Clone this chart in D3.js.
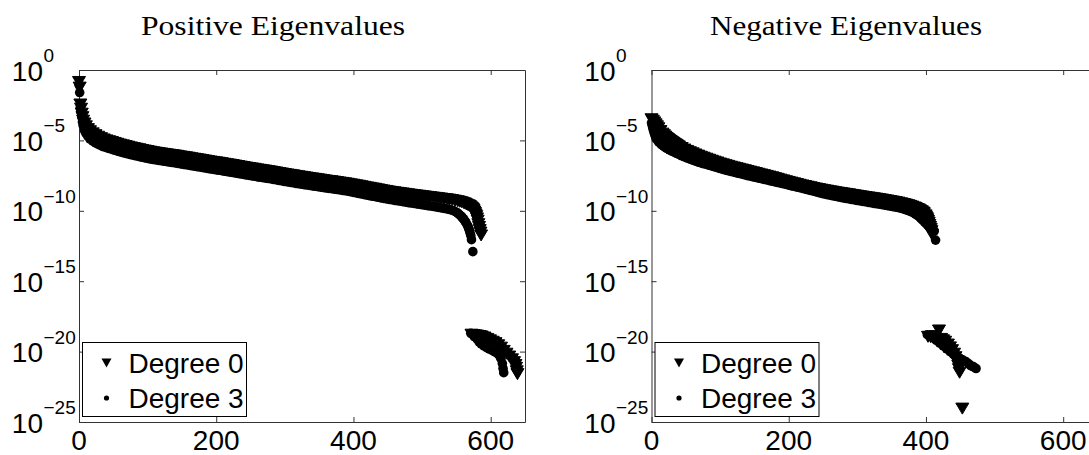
<!DOCTYPE html>
<html>
<head>
<meta charset="utf-8">
<script src="https://cdn.jsdelivr.net/npm/d3@7"></script>
<style>
  body { margin: 0; background: #fff; }
</style>
</head>
<body>
<div id="chart"></div>
<script>
// [eigenvalue index, log10 of eigenvalue]
var posDeg0 = [[0,-0.85],[1,-1.25],[2,-2.45],[3,-2.75],[4,-3.1],[5,-3.35],[6,-3.6],[8,-3.8],[10,-4.0],[13,-4.2],
  [16,-4.35],[20,-4.5],[24,-4.63],[28,-4.74],[32,-4.84],[36,-4.93],[40,-5.0],[44,-5.06],[48,-5.12],[52,-5.18],
  [56,-5.24],[60,-5.3],[64,-5.35],[68,-5.4],[72,-5.45],[76,-5.5],[80,-5.55],[84,-5.59],[88,-5.63],[92,-5.68],
  [96,-5.72],[100,-5.76],[104,-5.8],[108,-5.84],[112,-5.87],[116,-5.9],[120,-5.93],[124,-5.96],[128,-5.99],[132,-6.02],
  [136,-6.04],[140,-6.07],[144,-6.1],[148,-6.14],[152,-6.17],[156,-6.2],[160,-6.23],[164,-6.27],[168,-6.3],[172,-6.33],
  [176,-6.36],[180,-6.4],[184,-6.43],[188,-6.47],[192,-6.5],[196,-6.53],[200,-6.56],[204,-6.59],[208,-6.62],[212,-6.66],
  [216,-6.69],[220,-6.72],[224,-6.75],[228,-6.79],[232,-6.82],[236,-6.86],[240,-6.89],[244,-6.93],[248,-6.96],[252,-6.99],
  [256,-7.02],[260,-7.06],[264,-7.09],[268,-7.12],[272,-7.15],[276,-7.18],[280,-7.21],[284,-7.25],[288,-7.28],[292,-7.32],
  [296,-7.35],[300,-7.39],[304,-7.42],[308,-7.45],[312,-7.48],[316,-7.52],[320,-7.55],[324,-7.58],[328,-7.61],[332,-7.64],
  [336,-7.67],[340,-7.7],[344,-7.73],[348,-7.76],[352,-7.79],[356,-7.82],[360,-7.85],[364,-7.88],[368,-7.9],[372,-7.93],
  [376,-7.96],[380,-7.99],[384,-8.02],[388,-8.05],[392,-8.08],[396,-8.12],[400,-8.15],[404,-8.19],[408,-8.22],[412,-8.26],
  [416,-8.3],[420,-8.34],[424,-8.37],[428,-8.41],[432,-8.44],[436,-8.48],[440,-8.52],[444,-8.56],[448,-8.59],[452,-8.63],
  [456,-8.66],[460,-8.69],[464,-8.72],[468,-8.75],[472,-8.77],[476,-8.8],[480,-8.83],[484,-8.86],[488,-8.88],[492,-8.91],
  [496,-8.93],[500,-8.96],[504,-8.98],[508,-9.01],[512,-9.03],[516,-9.06],[520,-9.08],[524,-9.11],[528,-9.13],[532,-9.16],
  [536,-9.18],[540,-9.21],[544,-9.24],[548,-9.28],[552,-9.32],[555,-9.36],[558,-9.4],[561,-9.46],[563,-9.5],[565,-9.55],
  [567,-9.6],[569,-9.64],[570,-9.68],[572,-9.76],[573,-9.82],[574,-9.88],[575,-9.95],[576,-10.05],[577,-10.15],[578,-10.26],
  [579,-10.38],[580,-10.54],[581,-10.7],[582,-10.95],[583,-11.15],[584,-11.37],[585,-11.55],[586,-11.75],
  [572,-18.8],[575,-18.82],[578,-18.85],[581,-18.87],[584,-18.9],[587,-18.93],[591,-19.0],[595,-19.1],[599,-19.2],[603,-19.3],
  [607,-19.4],[611,-19.55],[615,-19.72],[619,-19.95],[623,-20.15],[627,-20.35],[631,-20.55],[634,-20.75],[636,-20.95],[637,-21.15],
  [638,-21.4],[639,-21.6]];

var posDeg3 = [[0,-1.05],[1,-1.6],[2,-2.65],[3,-3.0],[4,-3.35],[5,-3.7],[6,-3.95],[8,-4.3],[10,-4.5],[13,-4.72],
  [16,-4.9],[20,-5.05],[24,-5.18],[28,-5.28],[32,-5.37],[36,-5.45],[40,-5.52],[44,-5.58],[48,-5.64],[52,-5.7],
  [56,-5.76],[60,-5.82],[64,-5.87],[68,-5.92],[72,-5.97],[76,-6.02],[80,-6.07],[84,-6.11],[88,-6.15],[92,-6.2],
  [96,-6.24],[100,-6.28],[104,-6.32],[108,-6.36],[112,-6.39],[116,-6.42],[120,-6.45],[124,-6.48],[128,-6.51],[132,-6.54],
  [136,-6.57],[140,-6.6],[144,-6.63],[148,-6.67],[152,-6.7],[156,-6.73],[160,-6.76],[164,-6.8],[168,-6.83],[172,-6.86],
  [176,-6.89],[180,-6.93],[184,-6.96],[188,-7.0],[192,-7.03],[196,-7.06],[200,-7.09],[204,-7.12],[208,-7.15],[212,-7.19],
  [216,-7.22],[220,-7.25],[224,-7.28],[228,-7.32],[232,-7.35],[236,-7.39],[240,-7.42],[244,-7.46],[248,-7.49],[252,-7.52],
  [256,-7.55],[260,-7.59],[264,-7.62],[268,-7.65],[272,-7.68],[276,-7.71],[280,-7.74],[284,-7.78],[288,-7.81],[292,-7.85],
  [296,-7.88],[300,-7.92],[304,-7.95],[308,-7.98],[312,-8.01],[316,-8.05],[320,-8.08],[324,-8.11],[328,-8.14],[332,-8.17],
  [336,-8.2],[340,-8.23],[344,-8.26],[348,-8.29],[352,-8.32],[356,-8.35],[360,-8.38],[364,-8.41],[368,-8.43],[372,-8.46],
  [376,-8.49],[380,-8.52],[384,-8.55],[388,-8.58],[392,-8.61],[396,-8.65],[400,-8.69],[404,-8.73],[408,-8.77],[412,-8.81],
  [416,-8.85],[420,-8.89],[424,-8.93],[428,-8.97],[432,-9.0],[436,-9.04],[440,-9.08],[444,-9.12],[448,-9.15],[452,-9.19],
  [456,-9.22],[460,-9.26],[464,-9.29],[468,-9.32],[472,-9.35],[476,-9.39],[480,-9.42],[484,-9.45],[488,-9.48],[492,-9.51],
  [496,-9.54],[500,-9.57],[504,-9.6],[508,-9.63],[512,-9.66],[516,-9.69],[520,-9.72],[524,-9.76],[528,-9.79],[532,-9.83],
  [536,-9.86],[540,-9.91],[544,-9.96],[547,-10.02],[550,-10.1],[552,-10.17],[554,-10.25],[556,-10.34],[558,-10.44],[560,-10.56],
  [561,-10.62],[563,-10.76],[564,-10.84],[566,-11.02],[567,-11.12],[568,-11.26],[569,-11.4],[570,-11.58],[571,-11.76],[572,-12.05],
  [574,-12.9],
  [571,-18.7],[574,-18.8],[577,-18.95],[580,-19.1],[583,-19.3],[586,-19.45],[590,-19.6],[594,-19.72],[598,-19.82],[602,-19.92],
  [606,-20.02],[610,-20.15],[613,-20.3],[615,-20.5],[617,-20.85],[618,-21.2],[619,-21.5]];

var negDeg0 = [[0,-3.5],[2,-3.6],[4,-3.72],[6,-3.86],[8,-4.0],[10,-4.14],[13,-4.34],[16,-4.52],[18,-4.63],[20,-4.73],
  [22,-4.82],[24,-4.9],[26,-4.98],[28,-5.05],[30,-5.12],[32,-5.18],[34,-5.25],[36,-5.31],[38,-5.37],[40,-5.43],
  [44,-5.54],[48,-5.65],[52,-5.75],[56,-5.84],[60,-5.92],[64,-6.0],[68,-6.08],[72,-6.16],[76,-6.23],[80,-6.3],
  [84,-6.37],[88,-6.44],[92,-6.51],[96,-6.57],[100,-6.64],[104,-6.7],[108,-6.76],[112,-6.81],[116,-6.87],[120,-6.92],
  [124,-6.97],[128,-7.02],[132,-7.07],[136,-7.12],[140,-7.17],[144,-7.22],[148,-7.27],[152,-7.32],[156,-7.37],[160,-7.42],
  [164,-7.47],[168,-7.52],[172,-7.57],[176,-7.62],[180,-7.68],[184,-7.73],[188,-7.79],[192,-7.84],[196,-7.9],[200,-7.95],
  [204,-8.0],[208,-8.05],[212,-8.1],[216,-8.15],[220,-8.2],[224,-8.24],[228,-8.29],[232,-8.33],[236,-8.38],[240,-8.42],
  [244,-8.46],[248,-8.5],[252,-8.54],[256,-8.57],[260,-8.61],[264,-8.64],[268,-8.68],[272,-8.71],[276,-8.74],[280,-8.77],
  [284,-8.8],[288,-8.83],[292,-8.87],[296,-8.9],[300,-8.93],[304,-8.96],[308,-8.99],[312,-9.02],[316,-9.05],[320,-9.08],
  [324,-9.11],[328,-9.14],[332,-9.17],[336,-9.2],[340,-9.24],[344,-9.27],[348,-9.31],[352,-9.34],[356,-9.38],[360,-9.42],
  [364,-9.47],[368,-9.52],[371,-9.56],[374,-9.6],[377,-9.65],[380,-9.7],[383,-9.76],[385,-9.8],[388,-9.87],[390,-9.92],
  [392,-9.98],[394,-10.04],[396,-10.12],[397,-10.18],[399,-10.32],[400,-10.4],[401,-10.5],[402,-10.6],[403,-10.72],[404,-10.85],
  [405,-11.0],[406,-11.15],[407,-11.3],[408,-11.45],[409,-11.7],
  [403,-18.95],[407,-18.98],[410,-19.0],[414,-18.9],[419,-18.5],[422,-19.1],[425,-19.2],[428,-19.3],[432,-19.5],[435,-19.7],
  [438,-19.9],[441,-20.15],[443,-20.4],[445,-20.7],[447,-21.0],[448,-21.25],[449,-21.5],[453,-24.05]];

var negDeg3 = [[0,-3.75],[1,-3.95],[2,-4.15],[3,-4.32],[4,-4.48],[5,-4.62],[6,-4.75],[7,-4.86],[8,-4.95],[10,-5.08],
  [11,-5.14],[14,-5.28],[16,-5.36],[18,-5.43],[20,-5.5],[22,-5.56],[26,-5.67],[30,-5.77],[34,-5.86],[37,-5.93],
  [40,-6.0],[44,-6.09],[48,-6.17],[52,-6.25],[56,-6.33],[60,-6.4],[64,-6.47],[68,-6.54],[72,-6.6],[76,-6.66],
  [80,-6.71],[84,-6.77],[88,-6.82],[92,-6.88],[96,-6.94],[100,-7.0],[104,-7.06],[108,-7.11],[112,-7.16],[116,-7.21],
  [120,-7.26],[124,-7.31],[128,-7.35],[132,-7.4],[136,-7.45],[140,-7.5],[144,-7.54],[148,-7.59],[152,-7.63],[156,-7.68],
  [160,-7.72],[164,-7.77],[168,-7.81],[172,-7.86],[176,-7.9],[180,-7.95],[184,-7.99],[188,-8.04],[192,-8.08],[196,-8.13],
  [200,-8.18],[204,-8.23],[208,-8.27],[212,-8.32],[216,-8.36],[220,-8.41],[224,-8.46],[228,-8.51],[232,-8.56],[236,-8.61],
  [240,-8.66],[244,-8.71],[248,-8.76],[252,-8.81],[256,-8.85],[260,-8.89],[264,-8.93],[268,-8.97],[272,-9.01],[276,-9.05],
  [280,-9.09],[284,-9.13],[288,-9.16],[292,-9.2],[296,-9.23],[300,-9.27],[304,-9.3],[308,-9.33],[312,-9.36],[316,-9.4],
  [320,-9.43],[324,-9.47],[328,-9.5],[332,-9.53],[336,-9.56],[340,-9.6],[344,-9.63],[348,-9.67],[352,-9.7],[356,-9.74],
  [360,-9.78],[364,-9.83],[368,-9.88],[371,-9.93],[374,-9.98],[377,-10.04],[380,-10.1],[383,-10.19],[385,-10.25],[388,-10.35],
  [390,-10.42],[392,-10.51],[394,-10.6],[396,-10.7],[398,-10.8],[400,-10.9],[402,-11.0],[404,-11.08],[406,-11.15],[408,-11.22],
  [410,-11.3],[412,-11.45],[414,-12.08],
  [402,-18.8],[406,-18.9],[410,-19.0],[415,-19.2],[420,-19.4],[425,-19.6],[430,-19.8],[435,-20.0],[440,-20.2],[445,-20.35],
  [450,-20.5],[454,-20.6],[458,-20.7],[462,-20.85],[465,-21.0],[468,-21.05],[470,-21.1],[473,-21.2]];

var xTicks = [0, 200, 400, 600];
var yTicks = [0, -5, -10, -15, -20, -25];
var titles = ["Positive Eigenvalues", "Negative Eigenvalues"];
var legendLabels = ["Degree 0", "Degree 3"];

var width = 1089, height = 455;
var plotTop = 70, plotH = 352, plotW = 446;
var sans = "'Liberation Sans', Arial, sans-serif";

var svg = d3.select("#chart")
  .append("svg")
    .attr("width", width)
    .attr("height", height)
    .style("background", "#fff");

var panels = [
  {left: 79, titleX: 273, titleW: 264, title: titles[0], deg0: posDeg0, deg3: posDeg3},
  {left: 651.5, titleX: 846, titleW: 272, title: titles[1], deg0: negDeg0, deg3: negDeg3}
];

var triBig = "M-6.5,-5.5L6.5,-5.5L0,5.5Z";
var triSmall = "M-5,-4.5L5,-4.5L0,4.5Z";

panels.forEach(function (p) {
  var g = svg.append("g")
    .attr("transform", "translate(" + p.left + "," + plotTop + ")");

  var x = d3.scaleLinear().domain([0, 650]).range([0, plotW]);
  var y = d3.scaleLog().domain([1e-25, 1]).range([plotH, 0]);
  var yTickVals = yTicks.map(function (e) { return Math.pow(10, e); });

  // box with inward ticks on all four sides
  g.append("g").attr("transform", "translate(0," + plotH + ")")
    .call(d3.axisBottom(x).tickValues(xTicks).tickSizeInner(-5).tickSizeOuter(0).tickFormat(""));
  g.append("g")
    .call(d3.axisTop(x).tickValues(xTicks).tickSizeInner(-5).tickSizeOuter(0).tickFormat(""));
  g.append("g")
    .call(d3.axisLeft(y).tickValues(yTickVals).tickSizeInner(-5).tickSizeOuter(0).tickFormat(""));
  g.append("g").attr("transform", "translate(" + plotW + ",0)")
    .call(d3.axisRight(y).tickValues(yTickVals).tickSizeInner(-5).tickSizeOuter(0).tickFormat(""));
  g.selectAll(".domain, .tick line").attr("stroke", "#333").attr("stroke-width", 1);

  // x labels
  g.selectAll(".xlab")
    .data(xTicks)
    .enter()
    .append("text")
    .attr("x", function (d) { return x(d); })
    .attr("y", 380)
    .attr("text-anchor", "middle")
    .attr("font-family", sans)
    .attr("font-size", 28)
    .text(function (d) { return d; });

  // y labels: "10" plus a raised exponent
  yTicks.forEach(function (e) {
    var ty = y(Math.pow(10, e));
    g.append("text")
      .attr("x", -36).attr("y", ty + 10.5)
      .attr("text-anchor", "end")
      .attr("font-family", sans).attr("font-size", 28)
      .text("10");
    g.append("text")
      .attr("x", -35.5).attr("y", ty - 8)
      .attr("font-family", sans).attr("font-size", 19)
      .text(e === 0 ? "0" : "\u2212" + (-e));
  });

  svg.append("text")
    .attr("x", p.titleX).attr("y", 35)
    .attr("text-anchor", "middle")
    .attr("font-family", "'Liberation Serif', 'Times New Roman', serif")
    .attr("font-size", 28)
    .attr("textLength", p.titleW)
    .attr("lengthAdjust", "spacingAndGlyphs")
    .text(p.title);

  // Degree 3 (dots)
  g.append("g")
    .selectAll("circle")
    .data(p.deg3)
    .enter()
    .append("circle")
    .attr("cx", function (d) { return x(d[0]); })
    .attr("cy", function (d) { return y(Math.pow(10, d[1])); })
    .attr("r", 4.8)
    .attr("fill", "#000");

  // Degree 0 (triangles)
  g.append("g")
    .selectAll("path")
    .data(p.deg0)
    .enter()
    .append("path")
    .attr("d", triBig)
    .attr("transform", function (d) {
      return "translate(" + x(d[0]) + "," + y(Math.pow(10, d[1])) + ")";
    })
    .attr("fill", "#000")
    .attr("stroke", "#000")
    .attr("stroke-width", 1)
    .attr("stroke-linejoin", "round");

  // legend
  var lg = g.append("g").attr("transform", "translate(3.5,272.5)");
  lg.append("rect")
    .attr("width", 164).attr("height", 74)
    .attr("fill", "#fff").attr("stroke", "#000").attr("stroke-width", 1);
  lg.append("path").attr("d", triSmall).attr("transform", "translate(24,20.5)").attr("fill", "#000");
  lg.append("circle").attr("cx", 24).attr("cy", 55.5).attr("r", 2.6).attr("fill", "#000");
  lg.selectAll(".leg")
    .data(legendLabels)
    .enter()
    .append("text")
    .attr("x", 46)
    .attr("y", function (d, i) { return 30.5 + i * 35; })
    .attr("font-family", sans)
    .attr("font-size", 28)
    .text(function (d) { return d; });
});
</script>
</body>
</html>
